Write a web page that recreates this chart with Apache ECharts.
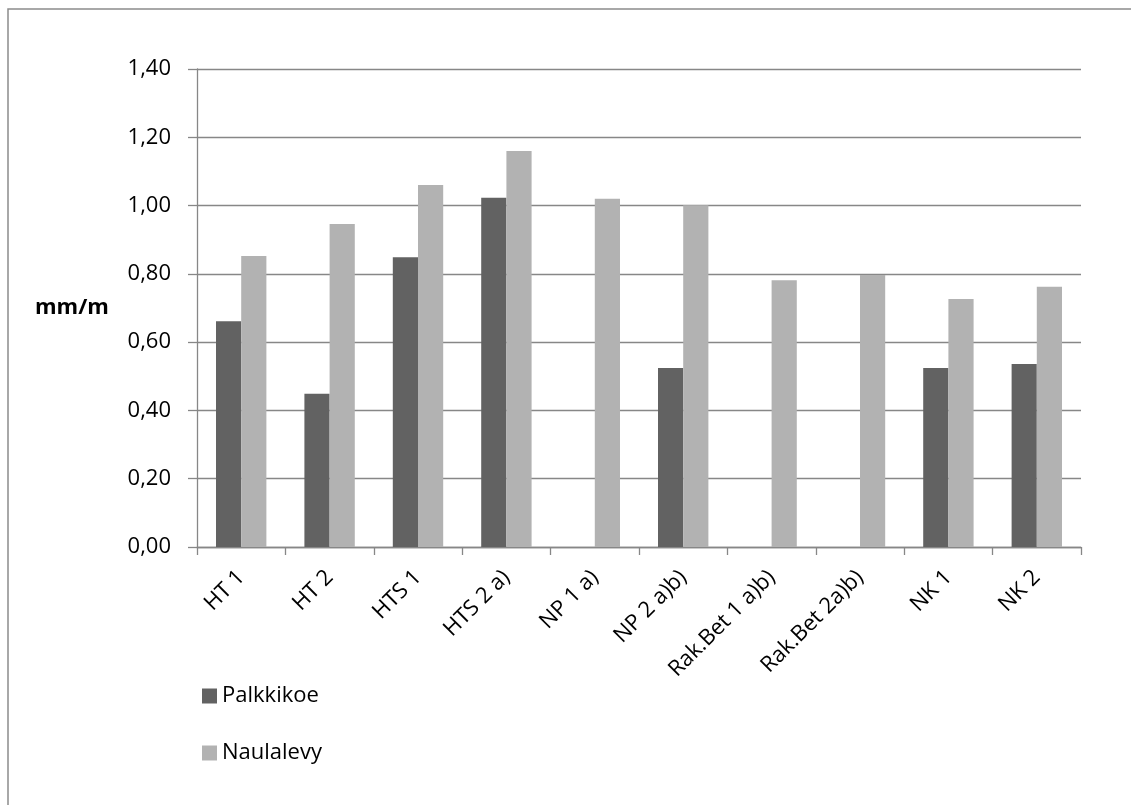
<!DOCTYPE html>
<html>
<head>
<meta charset="utf-8">
<script src="https://cdn.jsdelivr.net/npm/echarts@6/dist/echarts.min.js"></script>
<style>
html,body{margin:0;padding:0;background:#fff;}
#c{width:1131px;height:805px;}
</style>
</head>
<body>
<div id="c"></div>
<script>
const categories = ['HT 1','HT 2','HTS 1','HTS 2 a)','NP 1 a)','NP 2 a)b)','Rak.Bet 1 a)b)','Rak.Bet 2a)b)','NK 1','NK 2'];
const palkkikoe = [0.661, 0.449, 0.849, 1.023, null, 0.524, null, null, 0.524, 0.536];
const naulalevy = [0.852, 0.946, 1.060, 1.160, 1.020, 1.001, 0.781, 0.797, 0.726, 0.762];
const seriesNames = ['Palkkikoe', 'Naulalevy'];
const yTicks = {min: 0, max: 1.4, interval: 0.2};
const yTitle = 'mm/m';

const FONT = '"Open Sans", Lato, sans-serif';
const GRID_COLOR = '#878787';

const chart = echarts.init(document.getElementById('c'), null, {renderer: 'canvas'});
chart.setOption({
  backgroundColor: '#ffffff',
  animation: false,
  textStyle: {fontFamily: FONT},
  graphic: [
    {type: 'rect', shape: {x: 8, y: 9, width: 1300, height: 1000},
     style: {fill: 'none', stroke: '#8c8c8c', lineWidth: 1.5}, silent: true},
    {type: 'text', left: 35, top: 297,
     style: {text: yTitle, font: 'bold 22px ' + FONT, fill: '#000'}}
  ],
  grid: {left: 197, right: 50, top: 69, bottom: 258, containLabel: false},
  legend: {
    orient: 'vertical', left: 197, top: 680,
    itemWidth: 15, itemHeight: 15, itemGap: 35,
    icon: 'rect',
    textStyle: {fontSize: 22, color: '#000', fontFamily: FONT},
    data: seriesNames
  },
  xAxis: {
    type: 'category', data: categories,
    axisLine: {show: true, lineStyle: {color: GRID_COLOR, width: 1.3}},
    axisTick: {show: true, length: 8, lineStyle: {color: GRID_COLOR, width: 1.3}},
    axisLabel: {rotate: 45, margin: 27, fontSize: 22, color: '#000', fontFamily: FONT, interval: 0}
  },
  yAxis: {
    type: 'value', min: yTicks.min, max: yTicks.max, interval: yTicks.interval,
    axisLine: {show: true, lineStyle: {color: GRID_COLOR, width: 1.3}},
    axisTick: {show: true, length: 9, lineStyle: {color: GRID_COLOR, width: 1.3}},
    splitLine: {show: true, lineStyle: {color: GRID_COLOR, width: 1.3}},
    axisLabel: {margin: 26, fontSize: 22, color: '#000', fontFamily: FONT,
      formatter: v => v.toFixed(2).replace('.', ',')}
  },
  series: [
    {name: seriesNames[0], type: 'bar', data: palkkikoe, barGap: '0%', barCategoryGap: '43%',
     itemStyle: {color: '#626262'}},
    {name: seriesNames[1], type: 'bar', data: naulalevy, barGap: '0%', barCategoryGap: '43%',
     itemStyle: {color: '#b2b2b2'}}
  ]
});
</script>
</body>
</html>
